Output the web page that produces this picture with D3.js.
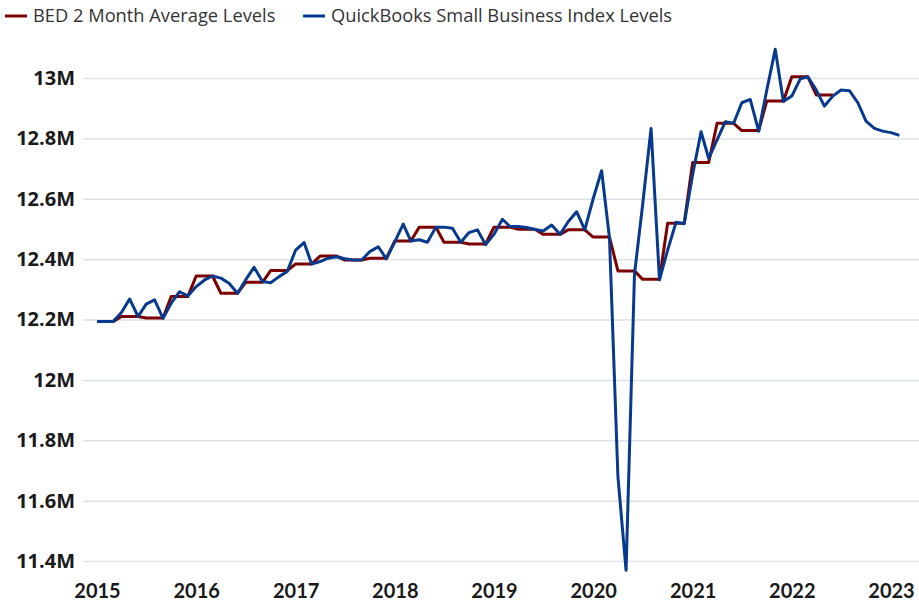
<!DOCTYPE html>
<html>
<head>
<meta charset="utf-8">
<script src="https://cdn.jsdelivr.net/npm/d3@7"></script>
<style>
  body { margin: 0; background: #fff; }
  text { font-family: Lato, "Open Sans", sans-serif; }
</style>
</head>
<body>
<div id="chart"></div>
<script>
// chart size
var width = 919;
var height = 606;

// series names
var seriesNames = ["BED 2 Month Average Levels", "QuickBooks Small Business Index Levels"];

// y ticks (millions)
var yTicks = [11.4, 11.6, 11.8, 12, 12.2, 12.4, 12.6, 12.8, 13];

// x ticks (years)
var xTickYears = [2015, 2016, 2017, 2018, 2019, 2020, 2021, 2022, 2023];

// monthly values from Jan 2015, in millions
var bedLevels = [
  12.193, 12.193, 12.193, 12.210, 12.210, 12.210, 12.205, 12.205, 12.205,
  12.276, 12.276, 12.276, 12.344, 12.344, 12.344, 12.287, 12.287, 12.287,
  12.323, 12.323, 12.323, 12.362, 12.362, 12.362, 12.384, 12.384, 12.384,
  12.410, 12.410, 12.410, 12.397, 12.397, 12.397, 12.403, 12.403, 12.403,
  12.460, 12.460, 12.460, 12.506, 12.506, 12.506, 12.456, 12.456, 12.456,
  12.450, 12.450, 12.450, 12.506, 12.506, 12.506, 12.499, 12.499, 12.499,
  12.482, 12.482, 12.482, 12.497, 12.497, 12.497, 12.473, 12.473, 12.473,
  12.361, 12.361, 12.361, 12.333, 12.333, 12.333, 12.519, 12.519, 12.519,
  12.720, 12.720, 12.720, 12.850, 12.850, 12.850, 12.826, 12.826, 12.826,
  12.924, 12.924, 12.924, 13.004, 13.004, 13.004, 12.944, 12.944, 12.944
];

var qbLevels = [
  12.193, 12.193, 12.193, 12.223, 12.268, 12.210, 12.251, 12.265, 12.204,
  12.254, 12.292, 12.278, 12.309, 12.331, 12.344, 12.337, 12.320, 12.287,
  12.331, 12.373, 12.326, 12.322, 12.342, 12.359, 12.430, 12.455, 12.384,
  12.392, 12.403, 12.408, 12.401, 12.397, 12.397, 12.425, 12.441, 12.401,
  12.458, 12.516, 12.460, 12.464, 12.456, 12.506, 12.506, 12.502, 12.456,
  12.488, 12.497, 12.448, 12.482, 12.532, 12.508, 12.508, 12.505, 12.498,
  12.493, 12.513, 12.482, 12.524, 12.557, 12.497, 12.600, 12.693, 12.470,
  11.680, 11.369, 12.350, 12.580, 12.833, 12.331, 12.430, 12.522, 12.517,
  12.680, 12.822, 12.734, 12.795, 12.855, 12.850, 12.918, 12.929, 12.824,
  12.960, 13.095, 12.922, 12.940, 12.997, 13.004, 12.960, 12.907, 12.940,
  12.960, 12.958, 12.918, 12.857, 12.833, 12.824, 12.819, 12.810
];

var colors = ["#7b0000", "#073a8c"];

function monthDate(i) {
  return new Date(Date.UTC(2015, i, 1));
}

var svg = d3.select("#chart")
  .append("svg")
    .attr("width", width)
    .attr("height", height);

var x = d3.scaleUtc()
  .domain([new Date(Date.UTC(2015, 0, 1)), new Date(Date.UTC(2023, 0, 1))])
  .range([97, 891]);

var y = d3.scaleLinear()
  .domain([11.4, 13])
  .range([561, 78]);

// y axis + gridlines
var yAxis = svg.append("g")
  .attr("transform", "translate(83,0)")
  .call(d3.axisLeft(y)
    .tickValues(yTicks)
    .tickSize(-(width - 83))
    .tickPadding(8)
    .tickFormat(function(d) { return d3.format(".1~f")(d) + "M"; }));
yAxis.select(".domain").remove();
yAxis.selectAll(".tick line")
  .attr("stroke", "#dde2e8")
  .attr("stroke-width", 1.5);
yAxis.selectAll(".tick text")
  .attr("fill", "#1a1a1a")
  .style("font-family", "'Open Sans', sans-serif")
  .style("font-size", "20px")
  .style("font-weight", "bold");

// x axis
var xAxis = svg.append("g")
  .attr("transform", "translate(0,578)")
  .call(d3.axisBottom(x)
    .tickValues(xTickYears.map(function(yr) { return new Date(Date.UTC(yr, 0, 1)); }))
    .tickSize(0)
    .tickPadding(6)
    .tickFormat(d3.utcFormat("%Y")));
xAxis.select(".domain").remove();
xAxis.selectAll(".tick text")
  .attr("fill", "#1a1a1a")
  .style("font-size", "20px")
  .style("font-weight", "bold");

// lines
var line = d3.line()
  .x(function(d, i) { return x(monthDate(i)); })
  .y(function(d) { return y(d); });

[bedLevels, qbLevels].forEach(function(series, k) {
  svg.append("path")
    .datum(series)
    .attr("d", line)
    .attr("fill", "none")
    .attr("stroke", colors[k])
    .attr("stroke-width", 3)
    .attr("stroke-linejoin", "round");
});

// legend
var legendX = [5, 303];
seriesNames.forEach(function(name, k) {
  var g = svg.append("g").attr("transform", "translate(" + legendX[k] + ",16)");
  g.append("line")
    .attr("x1", 0).attr("x2", 22)
    .attr("stroke", colors[k])
    .attr("stroke-width", 3);
  g.append("text")
    .attr("x", 28)
    .attr("dy", "0.35em")
    .attr("fill", "#333")
    .style("font-family", "'Open Sans', sans-serif")
    .style("font-size", "18.3px")
    .text(name);
});
</script>
</body>
</html>
